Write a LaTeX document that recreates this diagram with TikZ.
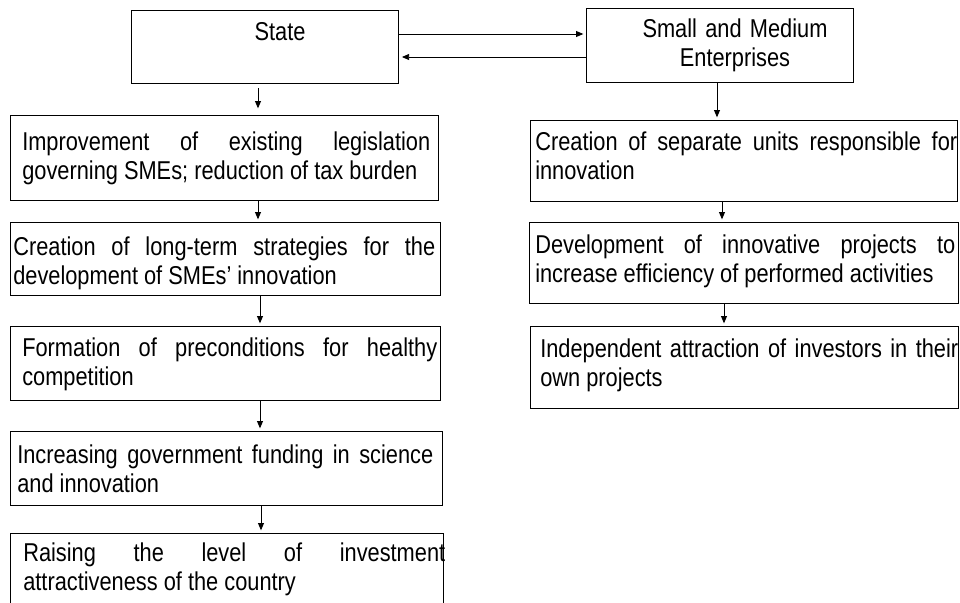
\documentclass[tikz,border=0pt]{standalone}
\usepackage{fontspec}
\setmainfont{Liberation Sans}[FakeStretch=0.845]
\usetikzlibrary{arrows.meta}
\newcommand{\normspace}{\spaceskip=\fontdimen2\font plus 0.5\fontdimen2\font\relax}
\newcommand{\fillline}[1]{\normspace\makebox[\hsize][s]{#1}}
\tikzset{
  box/.style={draw, line width=0.9pt, inner sep=0, anchor=north west},
  size/.style 2 args={minimum width=#1*0.75pt, minimum height=#2*0.75pt},
  txt/.style={inner sep=0, font=\fontsize{19.35}{22.1}\selectfont},
  arr/.style={-{Triangle[length=5.5pt,width=4.5pt]}, line width=0.7pt, shorten >=2pt}
}

\begin{document}
\begin{tikzpicture}[x=0.75pt,y=0.75pt,yscale=-1,xscale=1]
\useasboundingbox (0,0) rectangle (960,603);
\clip (0,0) rectangle (960,603);

%Shape: Rectangle (State)
\node[box, size={267}{73}] (st) at (131,10) {};
%Shape: Rectangle (SMEs)
\node[box, size={267}{74}] (sme) at (586,8) {};

%Shape: Rectangle (left column)
\node[box, size={428}{85}] (b1) at (10,115) {};
\node[box, size={430}{73}] (b2) at (10,222) {};
\node[box, size={430}{74}] (b3) at (10,326) {};
\node[box, size={432}{74}] (b4) at (10,431) {};
\node[box, size={433}{90}] (b5) at (10,533) {};

%Shape: Rectangle (right column)
\node[box, size={427}{81}] (r1) at (530,120) {};
\node[box, size={429}{81}] (r2) at (529,222) {};
\node[box, size={428}{82}] (r3) at (530,326) {};

% Text Node
\node[txt, anchor=base] (tst) at (280,40) {State};
% Text Node
\node[txt, anchor=base, text width=260*0.75pt, align=center] (tsme) at (735,37) {\normspace Small and Medium\\Enterprises};

% Text Node
\node[txt, anchor=base west, text width=408*0.75pt] (t1) at (22,150)
  {\fillline{Improvement of existing legislation}\\governing SMEs; reduction of tax burden};
% Text Node
\node[txt, anchor=base west, text width=422*0.75pt] (t2) at (13,255)
  {\fillline{Creation of long-term strategies for the}\\development of SMEs’ innovation};
% Text Node
\node[txt, anchor=base west, text width=415*0.75pt] (t3) at (22,356)
  {\fillline{Formation of preconditions for healthy}\\competition};
% Text Node
\node[txt, anchor=base west, text width=416*0.75pt] (t4) at (17,463)
  {\fillline{Increasing government funding in science}\\and innovation};
% Text Node
\node[txt, anchor=base west, text width=422*0.75pt] (t5) at (23,561)
  {\fillline{Raising the level of investment}\\attractiveness of the country};

% Text Node
\node[txt, anchor=base west, text width=422*0.75pt] (tr1) at (535,150)
  {\fillline{Creation of separate units responsible for}\\innovation};
% Text Node
\node[txt, anchor=base west, text width=420*0.75pt] (tr2) at (535,253)
  {\fillline{Development of innovative projects to}\\increase efficiency of performed activities};
% Text Node
\node[txt, anchor=base west, text width=418*0.75pt] (tr3) at (540,357)
  {\fillline{Independent attraction of investors in their}\\own projects};

%Straight Lines (x positions of the arrows)
\coordinate (h1) at (0,34);
\coordinate (h2) at (0,57);
\coordinate (c1) at (258,0);
\coordinate (c2) at (260,0);
\coordinate (c3) at (261,0);
\coordinate (d1) at (717,0);
\coordinate (d2) at (722,0);
\coordinate (d3) at (724,0);

\draw[arr] (st.east |- h1) -- (sme.west |- h1);
\draw[arr] (sme.west |- h2) -- (st.east |- h2);

\draw[arr, shorten <=3pt, shorten >=5pt] (st.south -| c1) -- (b1.north -| c1);
\draw[arr] (b1.south -| c1) -- (b2.north -| c1);
\draw[arr] (b2.south -| c2) -- (b3.north -| c2);
\draw[arr] (b3.south -| c2) -- (b4.north -| c2);
\draw[arr] (b4.south -| c3) -- (b5.north -| c3);

\draw[arr] (sme.south -| d1) -- (r1.north -| d1);
\draw[arr] (r1.south -| d2) -- (r2.north -| d2);
\draw[arr] (r2.south -| d3) -- (r3.north -| d3);

\end{tikzpicture}
\end{document}
